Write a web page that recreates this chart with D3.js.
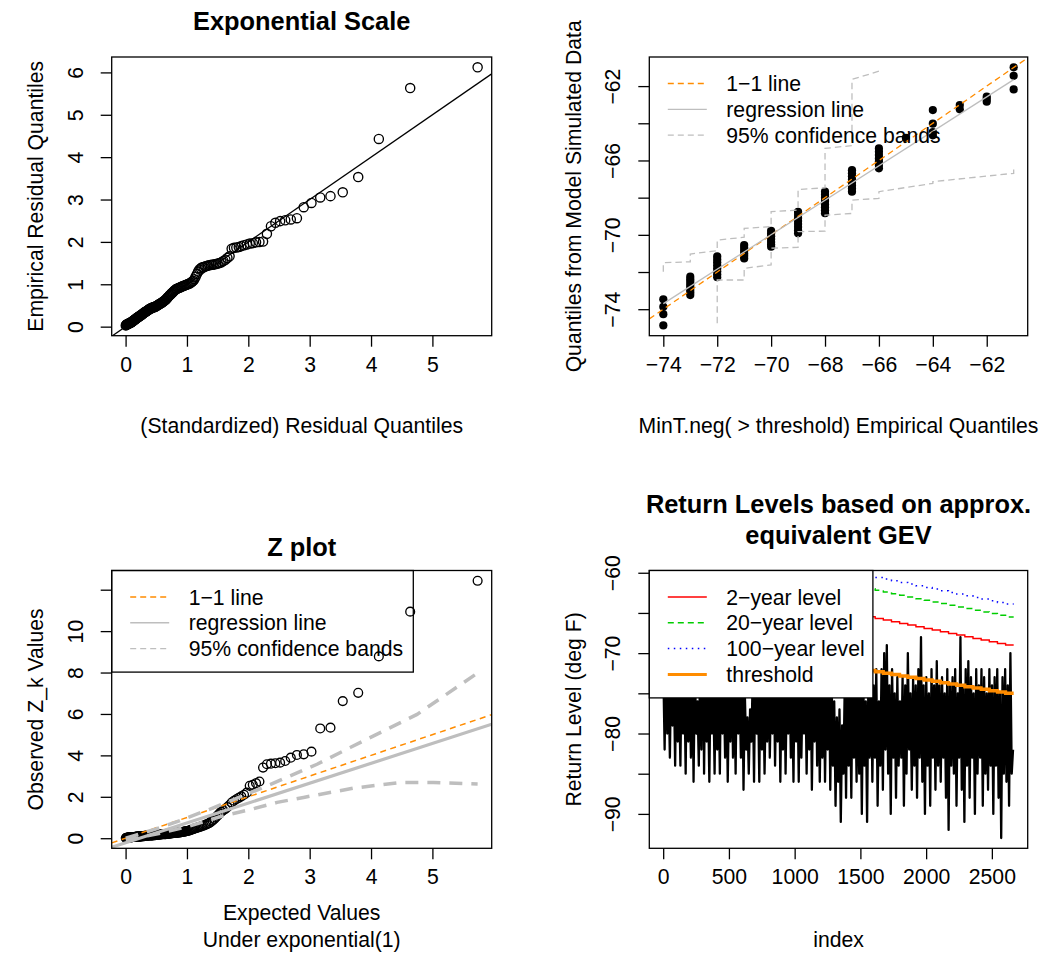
<!DOCTYPE html>
<html>
<head>
<meta charset="utf-8">
<script src="https://cdn.jsdelivr.net/npm/d3@7"></script>
<style>
  body { margin: 0; background: #fff; }
  svg text { font-family: "Liberation Sans", Arial, Helvetica, sans-serif; fill: #000; }
</style>
</head>
<body>
<svg id="chart" width="1046" height="954"></svg>
<script>
// ---------------------------------------------------------------
// Data
// ---------------------------------------------------------------

// Expected exponential(1) quantiles for the 155 threshold excesses
const expQuantiles = [
  0.003,0.010,0.016,0.023,0.029,0.036,0.043,0.050,0.056,0.063,
  0.070,0.077,0.084,0.091,0.098,0.105,0.113,0.120,0.127,0.134,
  0.142,0.149,0.157,0.164,0.172,0.180,0.188,0.195,0.203,0.211,
  0.219,0.227,0.235,0.244,0.252,0.260,0.269,0.277,0.286,0.294,
  0.303,0.312,0.320,0.329,0.338,0.347,0.357,0.366,0.375,0.385,
  0.394,0.404,0.414,0.423,0.433,0.443,0.453,0.464,0.474,0.484,
  0.495,0.505,0.516,0.527,0.538,0.549,0.560,0.572,0.583,0.595,
  0.607,0.619,0.631,0.643,0.655,0.668,0.680,0.693,0.706,0.719,
  0.733,0.746,0.760,0.774,0.788,0.802,0.817,0.831,0.846,0.861,
  0.877,0.892,0.908,0.924,0.941,0.958,0.975,0.992,1.009,1.027,
  1.045,1.064,1.083,1.102,1.121,1.141,1.162,1.183,1.204,1.226,
  1.248,1.271,1.294,1.318,1.342,1.367,1.393,1.419,1.446,1.474,
  1.502,1.532,1.562,1.593,1.626,1.659,1.694,1.729,1.766,1.805,
  1.845,1.886,1.930,1.975,2.023,2.073,2.126,2.181,2.240,2.303,
  2.369,2.441,2.518,2.601,2.692,2.792,2.903,3.029,3.172,3.339,
  3.539,3.791,4.127,4.638,5.737
];

// Sorted standardized residuals on the exponential scale
const residualQuantiles = [
  0.03,0.04,0.05,0.05,0.06,0.06,0.07,0.07,0.08,0.08,
  0.09,0.09,0.10,0.10,0.11,0.12,0.12,0.13,0.14,0.15,
  0.16,0.17,0.17,0.18,0.19,0.20,0.21,0.22,0.22,0.23,
  0.24,0.25,0.26,0.26,0.27,0.28,0.29,0.30,0.31,0.32,
  0.33,0.34,0.35,0.35,0.36,0.37,0.38,0.39,0.40,0.41,
  0.42,0.43,0.43,0.44,0.45,0.45,0.46,0.46,0.47,0.47,
  0.48,0.49,0.50,0.51,0.52,0.53,0.54,0.55,0.56,0.57,
  0.58,0.60,0.61,0.62,0.64,0.66,0.68,0.70,0.72,0.74,
  0.76,0.78,0.80,0.82,0.84,0.86,0.88,0.89,0.90,0.91,
  0.92,0.93,0.94,0.95,0.96,0.97,0.98,0.99,1.00,1.01,
  1.02,1.04,1.06,1.08,1.12,1.18,1.24,1.30,1.35,1.38,
  1.40,1.41,1.42,1.43,1.44,1.45,1.46,1.46,1.47,1.48,
  1.49,1.50,1.52,1.55,1.58,1.62,1.66,1.84,1.86,1.87,
  1.88,1.90,1.92,1.94,1.96,1.97,1.99,2.00,2.01,2.19,
  2.37,2.45,2.49,2.51,2.53,2.56,2.82,2.92,3.05,3.08,
  3.17,3.53,4.43,5.63,6.12
];

// Sorted Z_k values for the Z plot
const zValues = [
  0.01,0.01,0.02,0.02,0.02,0.03,0.03,0.03,0.03,0.04,
  0.04,0.04,0.04,0.05,0.05,0.05,0.05,0.06,0.06,0.06,
  0.06,0.06,0.07,0.07,0.07,0.07,0.08,0.08,0.08,0.08,
  0.08,0.09,0.09,0.09,0.09,0.09,0.10,0.10,0.10,0.10,
  0.10,0.11,0.11,0.11,0.12,0.12,0.12,0.12,0.13,0.13,
  0.13,0.13,0.14,0.14,0.14,0.14,0.15,0.15,0.15,0.15,
  0.16,0.16,0.16,0.17,0.17,0.17,0.18,0.18,0.18,0.19,
  0.19,0.19,0.20,0.20,0.20,0.21,0.21,0.21,0.22,0.22,
  0.23,0.23,0.24,0.24,0.25,0.25,0.26,0.26,0.27,0.27,
  0.28,0.28,0.29,0.30,0.31,0.32,0.33,0.34,0.35,0.36,
  0.38,0.40,0.42,0.44,0.46,0.48,0.50,0.52,0.54,0.56,
  0.59,0.61,0.64,0.67,0.70,0.74,0.80,0.86,0.93,1.02,
  1.10,1.20,1.28,1.35,1.42,1.50,1.60,1.72,1.81,1.88,
  1.95,2.02,2.10,2.20,2.53,2.58,2.66,2.74,3.41,3.57,
  3.60,3.62,3.65,3.73,3.89,4.02,4.05,4.18,5.30,5.34,
  6.62,7.02,8.78,10.94,12.43
];
const zRegressionCoef = [-0.22, 0.959];           // intercept, slope
const zUpperBand = [[0.003,0.0],[0.5,0.45],[0.84,0.80],[1.38,1.41],[2.31,2.53],[3.12,3.57],[3.66,4.38],[4.75,5.98],[5.737,7.98]];
const zLowerBand = [[0.003,-0.1],[0.5,0.2],[1.0,0.55],[1.6,1.09],[2.03,1.38],[2.47,1.73],[2.9,1.97],[3.72,2.42],[4.47,2.69],[5.02,2.69],[5.737,2.62]];

// Empirical vs model-simulated quantiles of MinT.neg above the threshold
const qqEmpirical = [
  -74,-74,-74,-74,
  -73,-73,-73,-73,-73,-73,-73,-73,
  -72,-72,-72,-72,-72,-72,-72,-72,
  -71,-71,-71,-71,-71,-71,
  -70,-70,-70,-70,-70,-70,-70,
  -69,-69,-69,-69,-69,-69,-69,-69,
  -68,-68,-68,-68,-68,-68,-68,-68,
  -67,-67,-67,-67,-67,-67,-67,-67,
  -66,-66,-66,-66,-66,-66,-66,
  -65,
  -64,-64,-64,-64,
  -63,-63,
  -62,-62,-62,
  -61,-61,-61
];
const qqSimulated = [
  -73.47,-73.87,-74.27,-74.87,
  -72.25,-72.39,-72.53,-72.67,-72.81,-72.96,-73.10,-73.24,
  -71.16,-71.32,-71.48,-71.64,-71.80,-71.96,-72.12,-72.28,
  -70.55,-70.70,-70.85,-71.00,-71.14,-71.27,
  -69.78,-69.93,-70.08,-70.23,-70.38,-70.52,-70.64,
  -68.76,-68.93,-69.10,-69.26,-69.42,-69.58,-69.75,-69.92,
  -67.68,-67.85,-68.01,-68.18,-68.35,-68.51,-68.68,-68.84,
  -66.52,-66.69,-66.85,-67.02,-67.18,-67.35,-67.51,-67.68,
  -65.35,-65.53,-65.71,-65.89,-66.06,-66.24,-66.42,
  -64.78,
  -63.29,-64.02,-64.48,-64.65,
  -63.02,-63.25,
  -62.57,-62.70,-62.84,
  -60.99,-61.45,-62.18
];
const qqRegression = [[-74,-73.7],[-61,-61.65]];
const qqUpperBand = [[-74,-71.98],[-74,-71.5],[-73,-71.45],[-73,-71.03],[-72,-70.85],[-72,-70.28],
  [-71,-70.13],[-71,-69.65],[-70,-69.56],[-70,-68.75],[-69,-68.67],[-69,-67.56],[-68,-67.47],
  [-68,-65.35],[-67,-65.2],[-67,-61.64],[-66,-61.2]];
const qqLowerBand = [[-72,-74.75],[-72,-72.43],[-71,-72.43],[-71,-71.8],[-70,-71.62],[-70,-70.72],
  [-69,-70.67],[-69,-69.83],[-68,-69.8],[-68,-68.94],[-67,-68.85],[-67,-68.13],[-66,-68.04],
  [-66,-67.68],[-64,-67.23],[-64,-67.14],[-61,-66.69],[-61,-66.37]];

// Daily MinT.neg, one reading every 10 observations
const seriesStep = 10;
const minTneg = [
  -72,-82,-70,-80,-74,-83,-71,-79,-73,-84,
  -70,-81,-75,-84,-71,-80,-73,-85,-69,-81,
  -74,-83,-70,-86,-72,-80,-76,-84,-71,-82,
  -61,-85,-70,-81,-75,-86,-72,-80,-74,-85,
  -71,-82,-73,-85,-70,-80,-74,-83,-72,-86,
  -75,-81,-71,-83,-73,-85,-70,-80,-74,-83,
  -72,-87,-75,-82,-78,-85,-77,-81,-73,-86,
  -71,-80,-74,-86,-70,-82,-73,-85,-75,-81,
  -72,-83,-74,-80,-71,-84,-73,-81,-70,-86,
  -74,-82,-71,-85,-73,-80,-72,-83,-75,-86,
  -70,-81,-73,-86,-71,-83,-74,-80,-72,-85,
  -73,-82,-71,-87,-74,-81,-70,-84,-72,-86,
  -75,-83,-72,-86,-74,-82,-71,-87,-73,-84,
  -76,-89,-78,-86,-77,-91,-79,-85,-74,-88,
  -72,-84,-75,-88,-71,-83,-74,-86,-73,-85,
  -75,-90,-72,-84,-76,-91,-73,-83,-71,-86,
  -74,-83,-72,-89,-76,-84,-72,-87,-70,-82,
  -69,-85,-74,-90,-72,-83,-75,-88,-73,-84,
  -76,-83,-73,-89,-74,-85,-70,-82,-75,-87,
  -73,-84,-74,-88,-72,-83,-68,-86,-74,-90,
  -73,-84,-75,-89,-72,-83,-74,-87,-71,-84,
  -74,-86,-73,-83,-75,-88,-72,-92,-74,-84,
  -73,-85,-72,-89,-75,-83,-68,-87,-74,-91,
  -72,-84,-71,-88,-73,-83,-75,-90,-72,-85,
  -74,-83,-72,-89,-73,-85,-75,-87,-72,-84,
  -74,-90,-73,-84,-72,-88,-75,-93,-73,-85,
  -72,-86,-74,-89,-70,-85,-82
];
const nObs = 2666;
const daysPerYear = 62;

// Per-year effective return levels and threshold (43 years)
const level2yr = [
  -60.30,-60.51,-60.71,-60.92,-61.13,-61.34,-61.54,-61.75,-61.96,-62.16,
  -62.37,-62.58,-62.78,-62.99,-63.20,-63.41,-63.61,-63.82,-64.03,-64.23,
  -64.44,-64.65,-64.85,-65.06,-65.27,-65.48,-65.68,-65.89,-66.10,-66.30,
  -66.51,-66.72,-66.92,-67.13,-67.34,-67.55,-67.75,-67.96,-68.17,-68.37,
  -68.58,-68.79,-68.99
];
const level20yr = [
  -56.80,-57.01,-57.21,-57.42,-57.63,-57.84,-58.04,-58.25,-58.46,-58.66,
  -58.87,-59.08,-59.28,-59.49,-59.70,-59.91,-60.11,-60.32,-60.53,-60.73,
  -60.94,-61.15,-61.35,-61.56,-61.77,-61.98,-62.18,-62.39,-62.60,-62.80,
  -63.01,-63.22,-63.42,-63.63,-63.84,-64.05,-64.25,-64.46,-64.67,-64.87,
  -65.08,-65.29,-65.49
];
const level100yr = [
  -55.20,-55.41,-55.61,-55.82,-56.03,-56.24,-56.44,-56.65,-56.86,-57.06,
  -57.27,-57.48,-57.68,-57.89,-58.10,-58.31,-58.51,-58.72,-58.93,-59.13,
  -59.34,-59.55,-59.75,-59.96,-60.17,-60.38,-60.58,-60.79,-61.00,-61.20,
  -61.41,-61.62,-61.82,-62.03,-62.24,-62.45,-62.65,-62.86,-63.07,-63.27,
  -63.48,-63.69,-63.89
];
const thresholdLevel = [
  -68.00,-68.17,-68.33,-68.50,-68.67,-68.83,-69.00,-69.17,-69.33,-69.50,
  -69.67,-69.83,-70.00,-70.17,-70.33,-70.50,-70.67,-70.83,-71.00,-71.17,
  -71.33,-71.50,-71.67,-71.83,-72.00,-72.17,-72.33,-72.50,-72.67,-72.83,
  -73.00,-73.17,-73.33,-73.50,-73.67,-73.83,-74.00,-74.17,-74.33,-74.50,
  -74.67,-74.83,-75.00
];

// Axis ticks and which of them carry labels
const expTicks = [0,1,2,3,4,5];
const residTicks = [0,1,2,3,4,5,6];
const qqTicks = [-74,-72,-70,-68,-66,-64,-62];
const qqYLabelled = [-74,-70,-66,-62];
const zTicks = [0,2,4,6,8,10,12];
const zLabelled = [0,2,4,6,8,10];
const indexTicks = [0,500,1000,1500,2000,2500];
const levelTicks = [-90,-85,-80,-75,-70,-65,-60];
const levelLabelled = [-90,-80,-70,-60];

// Legend entries
const qqLegend = ["1\u22121 line", "regression line", "95% confidence bands"];
const rlLegend = ["2\u2212year level", "20\u2212year level", "100\u2212year level", "threshold"];

// ---------------------------------------------------------------
// Drawing
// ---------------------------------------------------------------
const svg = d3.select("#chart");
const AXIS_PX = 21.2, TITLE_PX = 25.4;
const TICK = 11, XLAB_OFF = 36, YLAB_OFF = 29;
const GRAY = "#BEBEBE", ORANGE = "#FF8C00";
const fmt = d3.format("d");

function padded(ext) {
  const r = ext[1] - ext[0];
  return [ext[0] - 0.04 * r, ext[1] + 0.04 * r];
}

function makePanel(id, box, xDomain, yDomain) {
  const x = d3.scaleLinear().domain(xDomain).range([box.left, box.right]);
  const y = d3.scaleLinear().domain(yDomain).range([box.bottom, box.top]);
  svg.append("clipPath").attr("id", id).append("rect")
    .attr("x", box.left).attr("y", box.top)
    .attr("width", box.right - box.left).attr("height", box.bottom - box.top);
  const g = svg.append("g");
  const plot = g.append("g").attr("clip-path", `url(#${id})`);
  return { g, plot, x, y, box };
}

function frame(p) {
  p.g.append("rect")
    .attr("x", p.box.left).attr("y", p.box.top)
    .attr("width", p.box.right - p.box.left).attr("height", p.box.bottom - p.box.top)
    .attr("fill", "none").attr("stroke", "#000").attr("stroke-width", 1.3);
}

function xAxis(p, ticks, labelled) {
  const ax = d3.axisBottom(p.x).tickValues(ticks).tickSize(TICK).tickSizeOuter(0)
    .tickFormat(d => (labelled ? labelled.includes(d) : true) ? fmt(d) : "");
  const g = p.g.append("g").attr("transform", `translate(0,${p.box.bottom})`).call(ax);
  g.select(".domain").remove();
  g.selectAll(".tick line").attr("stroke", "#000").attr("stroke-width", 1.3);
  g.selectAll(".tick text").attr("y", XLAB_OFF).attr("dy", null)
    .attr("font-size", AXIS_PX).attr("font-family", null).attr("fill", "#000");
}

function yAxis(p, ticks, labelled) {
  const ax = d3.axisLeft(p.y).tickValues(ticks).tickSize(TICK).tickSizeOuter(0)
    .tickFormat(d => (labelled ? labelled.includes(d) : true) ? fmt(d) : "");
  const g = p.g.append("g").attr("transform", `translate(${p.box.left},0)`).call(ax);
  g.select(".domain").remove();
  g.selectAll(".tick line").attr("stroke", "#000").attr("stroke-width", 1.3);
  g.selectAll(".tick text").attr("x", 0).attr("dy", null)
    .attr("text-anchor", "middle")
    .attr("transform", `translate(${-YLAB_OFF},0) rotate(-90)`)
    .attr("font-size", AXIS_PX).attr("font-family", null).attr("fill", "#000");
}

function label(txt, x, y, opts = {}) {
  const t = svg.append("text").attr("x", x).attr("y", y)
    .attr("text-anchor", "middle")
    .attr("font-size", opts.size || AXIS_PX)
    .attr("font-weight", opts.bold ? "bold" : "normal")
    .text(txt);
  if (opts.rotate) t.attr("transform", `rotate(-90, ${x}, ${y})`);
  return t;
}

// Legend in the top-left corner of a panel; "fill" gives an opaque box
function legend(p, entries, styles, box) {
  const left = p.box.left, top = p.box.top;
  const rowH = 25.8;
  const g = p.g.append("g");
  if (box) {
    g.append("rect").attr("x", left).attr("y", top)
      .attr("width", box.width).attr("height", 26 + rowH * (entries.length - 1) + 24)
      .attr("fill", box.fill ? "#fff" : "none").attr("stroke", "#000").attr("stroke-width", 1.3);
  }
  entries.forEach((e, i) => {
    const cy = top + 26.5 + i * rowH;
    const s = styles[i];
    g.append("line").attr("x1", left + 18.5).attr("x2", left + 57.5)
      .attr("y1", cy).attr("y2", cy)
      .attr("stroke", s.color).attr("stroke-width", s.width)
      .attr("stroke-dasharray", s.dash || null);
    g.append("text").attr("x", left + 77).attr("y", cy + 7.5)
      .attr("font-size", AXIS_PX).text(e);
  });
}

const line = (p) => d3.line().x(d => p.x(d[0])).y(d => p.y(d[1]));

// ---------- Panel 1: exponential-scale QQ plot ----------
{
  const p = makePanel("clip-exp",
    { left: 111.7, right: 491.7, top: 57, bottom: 335.7 },
    padded(d3.extent(expQuantiles)), padded(d3.extent(residualQuantiles)));
  const pts = expQuantiles.map((v, i) => [v, residualQuantiles[i]]);
  p.plot.selectAll("circle").data(pts).join("circle")
    .attr("cx", d => p.x(d[0])).attr("cy", d => p.y(d[1])).attr("r", 4.6)
    .attr("fill", "none").attr("stroke", "#000").attr("stroke-width", 1.35);
  const xd = p.x.domain();
  p.plot.append("path").datum([[xd[0], xd[0]], [xd[1], xd[1]]])
    .attr("d", line(p)).attr("stroke", "#000").attr("stroke-width", 1.3).attr("fill", "none");
  frame(p);
  xAxis(p, expTicks);
  yAxis(p, residTicks);
  label("Exponential Scale", 301.7, 30, { size: TITLE_PX, bold: true });
  label("(Standardized) Residual Quantiles", 301.7, 432.7);
  label("Empirical Residual Quantiles", 42.6, 196.3, { rotate: true });
}

// ---------- Panel 2: empirical vs simulated quantiles ----------
{
  const p = makePanel("clip-qq",
    { left: 649.3, right: 1027.7, top: 57, bottom: 335.7 },
    padded(d3.extent(qqEmpirical)), padded(d3.extent(qqSimulated)));
  const pts = qqEmpirical.map((v, i) => [v, qqSimulated[i]]);
  p.plot.selectAll("circle").data(pts).join("circle")
    .attr("cx", d => p.x(d[0])).attr("cy", d => p.y(d[1])).attr("r", 4.1).attr("fill", "#000");
  const xd = p.x.domain();
  p.plot.append("path").datum([[xd[0], xd[0]], [xd[1], xd[1]]])
    .attr("d", line(p)).attr("stroke", ORANGE).attr("stroke-width", 1.3)
    .attr("stroke-dasharray", "6,4").attr("fill", "none");
  p.plot.append("path").datum(qqRegression)
    .attr("d", line(p)).attr("stroke", GRAY).attr("stroke-width", 1.3).attr("fill", "none");
  [qqUpperBand, qqLowerBand].forEach(b => {
    p.plot.append("path").datum(b).attr("d", line(p))
      .attr("stroke", GRAY).attr("stroke-width", 1.3).attr("stroke-dasharray", "6.5,4").attr("fill", "none");
  });
  frame(p);
  xAxis(p, qqTicks);
  yAxis(p, qqTicks, qqYLabelled);
  legend(p, qqLegend, [
    { color: ORANGE, width: 1.3, dash: "6,4" },
    { color: GRAY, width: 1.3 },
    { color: GRAY, width: 1.3, dash: "6,4" }
  ], null);
  label("MinT.neg( > threshold) Empirical Quantiles", 838.5, 432.7);
  label("Quantiles from Model Simulated Data", 581, 196.3, { rotate: true });
}

// ---------- Panel 3: Z plot ----------
{
  const p = makePanel("clip-z",
    { left: 111.7, right: 491.7, top: 570.5, bottom: 848.3 },
    padded(d3.extent(expQuantiles)), padded(d3.extent(zValues)));
  const pts = expQuantiles.map((v, i) => [v, zValues[i]]);
  p.plot.selectAll("circle").data(pts).join("circle")
    .attr("cx", d => p.x(d[0])).attr("cy", d => p.y(d[1])).attr("r", 4.4)
    .attr("fill", "none").attr("stroke", "#000").attr("stroke-width", 1.35);
  const xd = p.x.domain();
  p.plot.append("path").datum([[xd[0], xd[0]], [xd[1], xd[1]]])
    .attr("d", line(p)).attr("stroke", ORANGE).attr("stroke-width", 1.5)
    .attr("stroke-dasharray", "6,4.5").attr("fill", "none");
  p.plot.append("path")
    .datum(xd.map(v => [v, zRegressionCoef[0] + zRegressionCoef[1] * v]))
    .attr("d", line(p)).attr("stroke", GRAY).attr("stroke-width", 3.2).attr("fill", "none");
  [zUpperBand, zLowerBand].forEach(b => {
    p.plot.append("path").datum(b).attr("d", line(p))
      .attr("stroke", GRAY).attr("stroke-width", 3.5).attr("stroke-dasharray", "13,9").attr("fill", "none");
  });
  frame(p);
  xAxis(p, expTicks);
  yAxis(p, zTicks, zLabelled);
  legend(p, qqLegend, [
    { color: ORANGE, width: 1.3, dash: "6,4" },
    { color: GRAY, width: 1.6 },
    { color: GRAY, width: 1.3, dash: "6,4" }
  ], { width: 301.6, fill: false });
  label("Z plot", 301.7, 556, { size: TITLE_PX, bold: true });
  label("Expected Values", 301.7, 920);
  label("Under exponential(1)", 301.7, 947);
  label("Observed Z_k Values", 42.6, 709.4, { rotate: true });
}

// ---------- Panel 4: return levels ----------
{
  const p = makePanel("clip-rl",
    { left: 649.3, right: 1027.7, top: 570.5, bottom: 848.3 },
    padded([1, nObs]), padded(d3.extent(minTneg)));
  const seriesPts = minTneg.map((v, i) => [1 + i * seriesStep, v]);
  p.plot.append("path").datum(seriesPts).attr("d", line(p))
    .attr("stroke", "#000").attr("stroke-width", 2.3).attr("fill", "none")
    .attr("stroke-linejoin", "round");
  const yearly = (vals) => vals.flatMap((v, k) => [
    [k * daysPerYear + 1, v],
    [Math.min((k + 1) * daysPerYear, nObs), v]
  ]);
  p.plot.append("path").datum(yearly(level2yr)).attr("d", line(p))
    .attr("stroke", "#FF0000").attr("stroke-width", 1.5).attr("fill", "none");
  p.plot.append("path").datum(yearly(level20yr)).attr("d", line(p))
    .attr("stroke", "#00CD00").attr("stroke-width", 1.5).attr("stroke-dasharray", "6,4").attr("fill", "none");
  p.plot.append("path").datum(yearly(level100yr)).attr("d", line(p))
    .attr("stroke", "#0000FF").attr("stroke-width", 1.5).attr("stroke-dasharray", "1.5,4.5").attr("fill", "none");
  p.plot.append("path").datum(yearly(thresholdLevel)).attr("d", line(p))
    .attr("stroke", ORANGE).attr("stroke-width", 3.5).attr("fill", "none");
  frame(p);
  xAxis(p, indexTicks);
  yAxis(p, levelTicks, levelLabelled);
  legend(p, rlLegend, [
    { color: "#FF0000", width: 1.5 },
    { color: "#00CD00", width: 1.5, dash: "6,4" },
    { color: "#0000FF", width: 1.5, dash: "1.5,4.5" },
    { color: ORANGE, width: 3 }
  ], { width: 223.6, fill: true });
  label("Return Levels based on approx.", 838.5, 513, { size: TITLE_PX, bold: true });
  label("equivalent GEV", 838.5, 544, { size: TITLE_PX, bold: true });
  label("index", 838.5, 947);
  label("Return Level (deg F)", 581, 709.4, { rotate: true });
}
</script>
</body>
</html>
